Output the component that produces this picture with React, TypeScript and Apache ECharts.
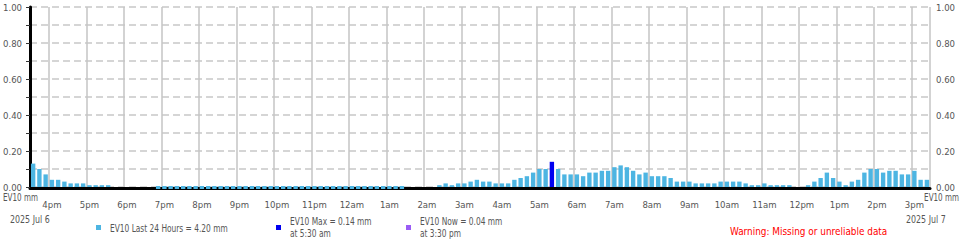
import React, { useEffect, useRef } from "react";
import * as echarts from "echarts";

// 10-minute rainfall (mm), slots from 3:30 pm Jul 6 to 3:30 pm Jul 7. null = missing data, 0 = recorded zero
const preHour = [0.13, 0.10, 0.07];
const h4pm = [0.04, 0.04, 0.03, 0.02, 0.02, 0.02];
const h5pm = [0.01, 0.01, 0.01, 0.01, null, null];
const h6pm = [null, null, null, null, null, 0];
const h7pm = [0, 0, 0, 0, 0, 0];
const h8pm = [0, 0, 0, 0, 0, 0];
const h9pm = [0, 0, 0, 0, 0, 0];
const h10pm = [0, 0, 0, 0, 0, 0];
const h11pm = [0, 0, 0, 0, 0, 0];
const h12am = [0, 0, 0, 0, 0, 0];
const h1am = [0, 0, 0, null, null, null];
const h2am = [null, null, 0.01, 0.02, 0.01, 0.02];
const h3am = [0.02, 0.03, 0.04, 0.03, 0.03, 0.02];
const h4am = [0.02, 0.02, 0.04, 0.05, 0.06, 0.08];
const h5am = [0.10, 0.10, 0.14, 0.10, 0.07, 0.07];
const h6am = [0.07, 0.06, 0.08, 0.08, 0.09, 0.09];
const h7am = [0.11, 0.12, 0.11, 0.09, 0.07, 0.08];
const h8am = [0.06, 0.06, 0.06, 0.05, 0.03, 0.03];
const h9am = [0.03, 0.02, 0.02, 0.02, 0.02, 0.03];
const h10am = [0.03, 0.03, 0.03, 0.02, 0.01, 0.01];
const h11am = [0.02, 0.01, 0.01, 0.01, 0.01, null];
const h12pm = [null, 0.01, 0.03, 0.05, 0.08, 0.05];
const h1pm = [0.03, 0.01, 0.03, 0.04, 0.08, 0.10];
const h2pm = [0.10, 0.08, 0.09, 0.09, 0.07, 0.07];
const h3pm = [0.09, 0.04, 0.04];

const rainValues: (number | null)[] = [
  ...preHour, ...h4pm, ...h5pm, ...h6pm, ...h7pm, ...h8pm, ...h9pm, ...h10pm, ...h11pm,
  ...h12am, ...h1am, ...h2am, ...h3am, ...h4am, ...h5am, ...h6am, ...h7am, ...h8am,
  ...h9am, ...h10am, ...h11am, ...h12pm, ...h1pm, ...h2pm, ...h3pm,
];

const hourLabels = [
  "4pm", "5pm", "6pm", "7pm", "8pm", "9pm", "10pm", "11pm", "12am", "1am", "2am", "3am",
  "4am", "5am", "6am", "7am", "8am", "9am", "10am", "11am", "12pm", "1pm", "2pm", "3pm",
];
const SLOTS_PER_HOUR = 6;
const FIRST_HOUR_SLOT = 3;

const legendTotal = "EV10 Last 24 Hours = 4.20 mm";
const legendMax = ["EV10 Max = 0.14 mm", "at 5:30 am"];
const legendNow = ["EV10 Now = 0.04 mm", "at 3:30 pm"];
const startDate = "2025 Jul 6";
const endDate = "2025 Jul 7";
const unitLabel = "EV10 mm";
const warningText = "Warning: Missing or unreliable data";

const FONT = "'DejaVu Sans Condensed', 'DejaVu Sans', sans-serif";
const BAR = "#4db5e2";
const MAXC = "#0000f0";
const NOWC = "#9a5cf5";
const TXT = "#555555";
const FS = 9.5;

export default function App() {
  const ref = useRef<HTMLDivElement>(null);
  useEffect(() => {
    if (!ref.current) return;
    const chart = echarts.init(ref.current, undefined, { renderer: "svg" });
    const categories = rainValues.map((_, i) => String(i));
    let maxIdx = 0;
    rainValues.forEach((v, i) => {
      if (v != null && v > (rainValues[maxIdx] ?? -1)) maxIdx = i;
    });
    const mainData = rainValues.map((v, i) =>
      v == null ? "-" : i === maxIdx ? { value: v, itemStyle: { color: MAXC } } : v
    );
    const zeroSlots: number[][] = [];
    rainValues.forEach((v, i) => {
      if (v === 0) zeroSlots.push([i, 0]);
    });
    const isHour = (i: number) => i % SLOTS_PER_HOUR === FIRST_HOUR_SLOT;
    const yFmt = (v: number) => (Math.round(v * 10) % 2 === 0 ? v.toFixed(2) : "");

    const txt = (text: string, x: number, y: number, opts: any = {}) => ({
      type: "text",
      x,
      y,
      scaleX: opts.sx || 1,
      silent: true,
      style: {
        text,
        fill: opts.fill || TXT,
        font: `${opts.size || 10}px ${FONT}`,
        textAlign: opts.align || "left",
        textVerticalAlign: "middle",
      },
    });
    const sq = (x: number, y: number, color: string) => ({
      type: "rect",
      silent: true,
      shape: { x, y, width: 5, height: 5 },
      style: { fill: color },
    });
    const LEG = { size: 10, sx: 0.83 };

    chart.setOption({
      animation: false,
      textStyle: { fontFamily: FONT },
      grid: { left: 30, top: 7, width: 900, height: 180, containLabel: false },
      xAxis: {
        type: "category",
        data: categories,
        boundaryGap: true,
        offset: 1.5,
        axisLine: { show: true, onZero: false, lineStyle: { color: "#000", width: 3 } },
        axisTick: { show: false },
        axisLabel: {
          interval: (i: number) => isHour(i),
          formatter: (_v: string, i: number) =>
            isHour(i) ? hourLabels[(i - FIRST_HOUR_SLOT) / SLOTS_PER_HOUR] : "",
          color: TXT,
          fontSize: FS,
          fontFamily: FONT,
          margin: 11,
        },
        splitLine: {
          show: true,
          interval: (i: number) => isHour(i),
          lineStyle: { color: "#c4c4c4", width: 1.5 },
        },
      },
      yAxis: [
        {
          type: "value",
          min: 0,
          max: 1,
          interval: 0.1,
          position: "left",
          axisLine: { show: true, lineStyle: { color: "#000", width: 3 } },
          axisTick: { show: true, length: 4, lineStyle: { color: "#333", width: 1 } },
          axisLabel: { formatter: yFmt, color: TXT, fontSize: FS, fontFamily: FONT, margin: 8 },
          splitLine: { show: true, lineStyle: { color: "#c8c8c8", width: 1.5, type: [7, 4] } },
        },
        {
          type: "value",
          min: 0,
          max: 1,
          interval: 0.1,
          position: "right",
          axisLine: { show: false },
          axisTick: { show: false },
          axisLabel: { formatter: yFmt, color: TXT, fontSize: FS, fontFamily: FONT, margin: 6 },
          splitLine: { show: false },
        },
      ],
      series: [
        {
          type: "bar",
          name: "rain",
          data: mainData,
          yAxisIndex: 0,
          barWidth: "70%",
          itemStyle: { color: BAR },
          z: 3,
        },
        {
          type: "custom",
          name: "zero",
          data: zeroSlots,
          yAxisIndex: 0,
          z: 5,
          renderItem: (_params: any, api: any) => {
            const c = api.coord([api.value(0), api.value(1)]);
            const w = api.size([1, 0])[0] * 0.7;
            return {
              type: "rect",
              shape: { x: c[0] - w / 2, y: c[1] - 1, width: w, height: 3 },
              style: { fill: BAR },
            };
          },
        },
      ],
      graphic: [
        txt(unitLabel, 3, 198, { sx: 0.8 }),
        txt(unitLabel, 959, 198, { sx: 0.8, align: "right" }),
        txt(startDate, 10, 219, { sx: 0.88 }),
        txt(endDate, 906, 219, { sx: 0.88 }),
        sq(96, 225, BAR),
        txt(legendTotal, 110, 228, LEG),
        sq(276, 225, MAXC),
        txt(legendMax[0], 290, 221, LEG),
        txt(legendMax[1], 290, 233, LEG),
        sq(406, 225, NOWC),
        txt(legendNow[0], 420, 221, LEG),
        txt(legendNow[1], 420, 233, LEG),
        txt(warningText, 730, 231, { fill: "#ff0000", size: 11, sx: 0.9 }),
      ],
    });
    return () => chart.dispose();
  }, []);
  return (
    <div
      ref={ref}
      style={{ position: "fixed", left: 0, top: 0, width: 960, height: 240, background: "#fff" }}
    />
  );
}
